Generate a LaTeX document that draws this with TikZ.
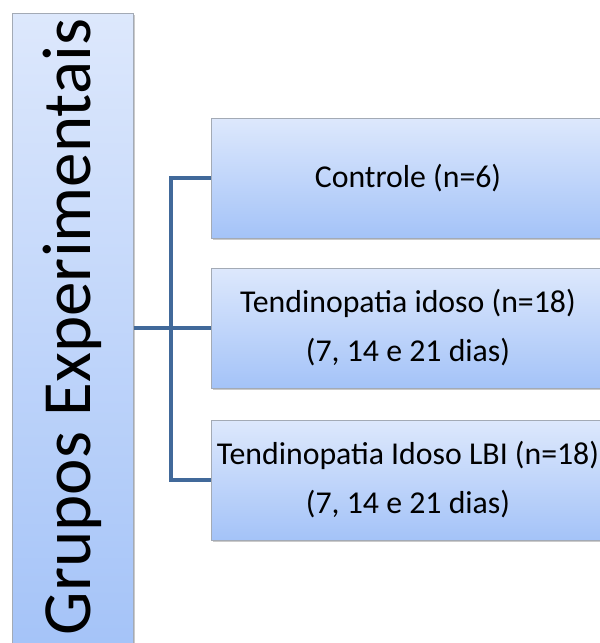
\documentclass[tikz,border=0pt]{standalone}
\usepackage{fontspec}
\setmainfont{Carlito}
\usetikzlibrary{shadows}
\definecolor{boxtop}{HTML}{DDE8FC}
\definecolor{boxbot}{HTML}{A4C3F8}
\definecolor{boxedge}{HTML}{A3AAB5}
\definecolor{connblue}{HTML}{41699A}
\tikzset{
  grpbox/.style={draw=boxedge, line width=1pt, top color=boxtop, bottom color=boxbot,
    drop shadow={shadow xshift=2pt, shadow yshift=-2pt, opacity=0.35, fill=black!60},
    inner sep=0pt},
  subbox/.style={grpbox, minimum width=394pt, minimum height=120pt, align=center,
    font=\fontsize{31.8}{49}\selectfont},
  conn/.style={draw=connblue, line width=4pt}
}
\begin{document}
\begin{tikzpicture}[x=1pt,y=-1pt]
\useasboundingbox (0,0) rectangle (600,643);
\node[grpbox, minimum width=121pt, minimum height=640pt] (g) at (72.5,333) {};
\node[rotate=90, font=\fontsize{69}{80}\selectfont] (gt) at (72,327) {Grupos Experimentais};
\node[subbox] (b1) at (408,178) {\raisebox{-2pt}{Controle (n=6)}};
\node[subbox] (b2) at (408,328) {\raisebox{-3pt}{Tendinopatia idoso (n=18)}\\\raisebox{-3pt}{(7, 14 e 21 dias)}};
\node[subbox] (b3) at (408,480) {Tendinopatia Idoso LBI (n=18)\\(7, 14 e 21 dias)};
\coordinate (j) at (171,328);
\draw[conn] (g.east |- b2.west) -- (b2.west);
\draw[conn] (b1.west) -| (j) |- (b3.west);
\end{tikzpicture}
\end{document}
